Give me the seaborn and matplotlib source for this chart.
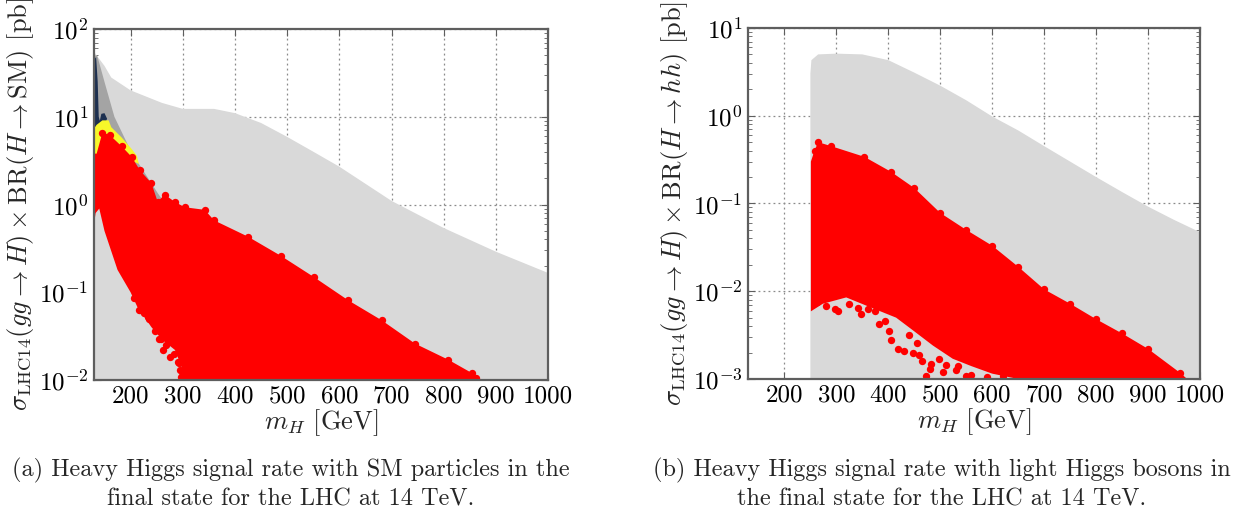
import numpy as np
import pandas as pd
import matplotlib
matplotlib.use("Agg")
import matplotlib.pyplot as plt
import seaborn as sns

# --- panel (a): H -> SM (m_H [GeV], rate [pb]) ---
a_lgrey_m = [130, 135, 150, 163, 200, 260, 300, 360, 400, 450, 500, 550, 600, 700, 800, 900, 1000]
a_lgrey_y = [55, 50, 38, 28, 20, 14.4, 12.3, 12.3, 11, 8.5, 5.9, 4.0, 2.7, 1.1, 0.54, 0.29, 0.166]

a_dgrey_m = [130, 136, 150, 169, 202, 252, 265, 280, 280, 200, 140, 130]
a_dgrey_y = [50, 50, 25, 10, 3.9, 1.35, 1.05, 0.9, 0.5, 0.2, 1.0, 1.0]

a_navy_m = [130.5, 134, 137, 139, 141, 144, 150, 155, 150, 140, 133, 130.5]
a_navy_y = [45, 48, 25, 10, 9, 10.8, 11, 9.5, 8, 6, 6.5, 8]

a_yellow_m = [131, 135, 146, 158, 163, 183, 202, 212, 216, 200, 170, 145, 140, 135, 131]
a_yellow_y = [7.5, 8.1, 9.1, 9.1, 7.6, 5.8, 4.3, 3.6, 2.9, 3.2, 4.0, 4.5, 2.7, 2.7, 4.0]

a_red_top_m = [131, 135, 146, 160, 183, 202, 218, 240, 252, 265, 285, 304, 342, 360, 425,
               488, 552, 617, 681, 745, 809, 854, 862]
a_red_top_y = [3.8, 3.8, 6.6, 6.2, 4.6, 3.5, 2.45, 1.75, 1.07, 1.3, 1.07, 0.93, 0.87, 0.66,
               0.43, 0.26, 0.148, 0.081, 0.048, 0.026, 0.017, 0.012, 0.0105]
a_red_low_m = [862, 300, 298, 285, 260, 240, 213, 200, 175, 150, 140, 133, 131]
a_red_low_y = [0.01, 0.01, 0.014, 0.022, 0.029, 0.04, 0.068, 0.1, 0.18, 0.5, 0.9, 0.8, 0.66]

a_dots_m = [217, 233, 254, 262, 275, 291, 294, 299, 317, 342, 374, 390, 219, 235, 258, 292,
            296, 344, 386, 377, 206, 226, 246, 268, 283]
a_dots_y = [0.063, 0.052, 0.029, 0.022, 0.0185, 0.016, 0.013, 0.011, 0.0155, 0.0117, 0.014,
            0.0112, 0.063, 0.05, 0.029, 0.0155, 0.0107, 0.012, 0.014, 0.011, 0.085, 0.058,
            0.036, 0.025, 0.02]

# --- panel (b): H -> hh ---
b_lgrey_m = [250, 250, 252, 265, 300, 350, 400, 450, 500, 550, 600, 650, 700, 750, 800, 850,
             900, 950, 1000]
b_lgrey_y = [0.001, 3.0, 4.3, 5.0, 5.1, 5.0, 4.3, 3.1, 2.2, 1.5, 0.98, 0.68, 0.45, 0.30,
             0.20, 0.135, 0.092, 0.065, 0.047]

b_red_top_m = [251, 258, 265, 290, 354, 405, 450, 500, 550, 600, 650, 700, 750, 800, 850,
               900, 962, 975]
b_red_top_y = [0.3, 0.40, 0.50, 0.45, 0.34, 0.23, 0.15, 0.078, 0.05, 0.033, 0.019, 0.0105,
               0.0072, 0.0048, 0.0033, 0.0022, 0.00117, 0.001]
b_red_low_m = [975, 650, 600, 560, 524, 486, 447, 415, 370, 319, 274, 251]
b_red_low_y = [0.001, 0.001, 0.00115, 0.0014, 0.0017, 0.0024, 0.0036, 0.005, 0.0064,
               0.0085, 0.0072, 0.0059]

b_dots_m = [297, 303, 342, 348, 374, 383, 393, 402, 406, 418, 431, 447, 460, 473, 482, 498,
            511, 505, 534, 550, 262, 280, 325, 360, 440, 455, 560, 590, 620, 530, 480, 465]
b_dots_y = [0.0062, 0.0059, 0.0065, 0.0055, 0.0059, 0.0042, 0.0046, 0.0035, 0.0028, 0.0022,
            0.0021, 0.002, 0.0019, 0.00107, 0.0015, 0.0017, 0.00145, 0.0012, 0.0014, 0.00107,
            0.0075, 0.0068, 0.0071, 0.0062, 0.0032, 0.0026, 0.0011, 0.00105, 0.00108,
            0.00125, 0.0013, 0.0016]

x_ticks = [200, 300, 400, 500, 600, 700, 800, 900, 1000]

C_LGREY = "#d9d9d9"
C_DGREY = "#a4a4a4"
C_NAVY = "#1d3050"
C_YELLOW = "#f7f72a"
C_RED = "#ff0000"

sns.set_style("ticks")
plt.rcParams["font.family"] = ["cmr10", "DejaVu Serif"]
plt.rcParams["mathtext.fontset"] = "cm"
plt.rcParams["axes.formatter.use_mathtext"] = True
plt.rcParams["axes.unicode_minus"] = False


def poly(ax, top_m, top_y, low_m=None, low_y=None, color="k", floor=None, z=2):
    # polygon built from an upper edge and a lower edge (or the axis floor)
    xs = list(top_m)
    ys = list(top_y)
    if low_m is not None:
        xs += list(low_m)
        ys += list(low_y)
    else:
        xs += [top_m[-1], top_m[0]]
        ys += [floor, floor]
    ax.fill(xs, ys, color=color, lw=0, zorder=z)


def dress(ax, ylim, ylabel):
    ax.set_yscale("log")
    ax.set_xlim(130, 1000)
    ax.set_ylim(*ylim)
    ax.set_xticks(x_ticks)
    ax.set_xticklabels([str(t) for t in x_ticks])
    ax.grid(True, which="major", ls=(0, (1.5, 2.5)), color="#8a8a8a", lw=0.9)
    for sp in ax.spines.values():
        sp.set_color("#5e5e5e")
        sp.set_linewidth(1.6)
        sp.set_zorder(6)
    ax.tick_params(which="both", direction="in", top=True, right=True,
                   colors="#5e5e5e", labelcolor="black", labelsize=18)
    ax.tick_params(which="major", length=5, pad=4)
    ax.tick_params(which="minor", length=3)
    ax.set_xlabel(r"$m_H$ [GeV]", fontsize=19, labelpad=0)
    ax.set_ylabel(ylabel, fontsize=19, labelpad=2)
    for gl in ax.get_xgridlines() + ax.get_ygridlines():
        gl.set_zorder(5)


fig = plt.figure(figsize=(12.44, 5.21), dpi=100)
ax1 = fig.add_axes([0.0756, 0.2706, 0.365, 0.6737])
ax2 = fig.add_axes([0.6013, 0.2726, 0.3634, 0.6737])

# panel (a)
poly(ax1, a_lgrey_m, a_lgrey_y, color=C_LGREY, floor=1e-2)
ax1.fill(a_dgrey_m, a_dgrey_y, color=C_DGREY, lw=0, zorder=2)
ax1.fill(a_navy_m, a_navy_y, color=C_NAVY, lw=0, zorder=3)
ax1.fill(a_yellow_m, a_yellow_y, color=C_YELLOW, lw=0, zorder=3)
poly(ax1, a_red_top_m, a_red_top_y, a_red_low_m, a_red_low_y, color=C_RED, z=4)
dots_a = pd.DataFrame({"m": a_red_top_m[2:] + a_dots_m, "y": a_red_top_y[2:] + a_dots_y})
sns.scatterplot(data=dots_a, x="m", y="y", ax=ax1, color=C_RED, s=28, linewidth=0,
                zorder=4, legend=False)
dress(ax1, (1e-2, 1e2),
      r"$\sigma_{\rm LHC14}(gg \to H) \times {\rm BR}(H \to {\rm SM})$ [pb]")

# panel (b)
poly(ax2, b_lgrey_m, b_lgrey_y, color=C_LGREY, floor=1e-3)
poly(ax2, b_red_top_m, b_red_top_y, b_red_low_m, b_red_low_y, color=C_RED, z=4)
dots_b = pd.DataFrame({"m": b_red_top_m[1:-1] + b_dots_m, "y": b_red_top_y[1:-1] + b_dots_y})
sns.scatterplot(data=dots_b, x="m", y="y", ax=ax2, color=C_RED, s=28, linewidth=0,
                zorder=4, legend=False)
dress(ax2, (1e-3, 1e1),
      r"$\sigma_{\rm LHC14}(gg \to H) \times {\rm BR}(H \to hh)$ [pb]")

fig.text(0.234, 0.071, "(a) Heavy Higgs signal rate with SM particles in the\nfinal state for the LHC at 14 TeV.",
         ha="center", va="center", fontsize=17.5, linespacing=1.3)
fig.text(0.757, 0.071, "(b) Heavy Higgs signal rate with light Higgs bosons in\nthe final state for the LHC at 14 TeV.",
         ha="center", va="center", fontsize=17.5, linespacing=1.3)

fig.savefig("out.png", dpi=100)
